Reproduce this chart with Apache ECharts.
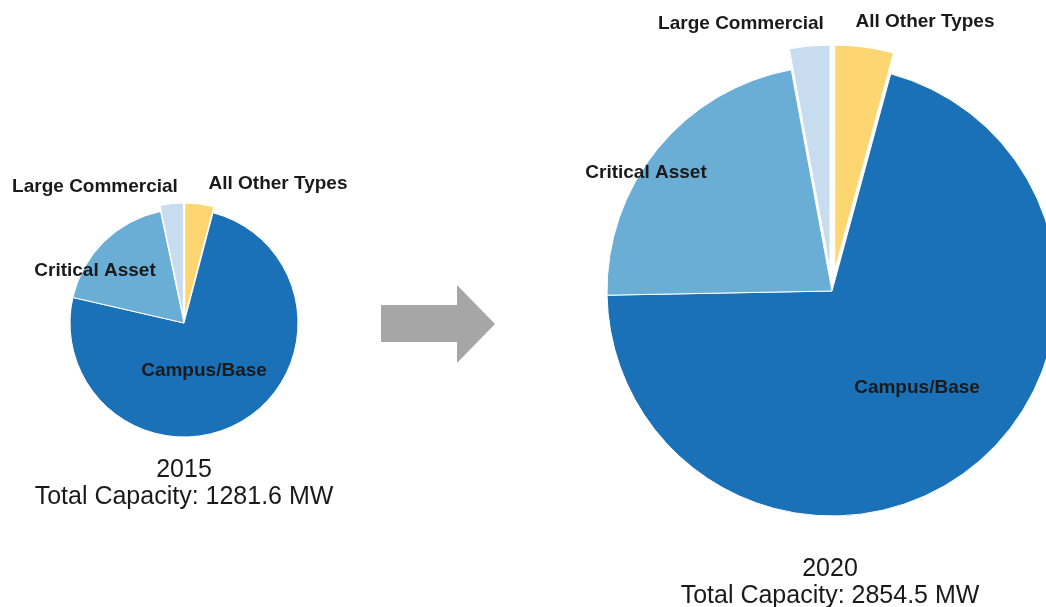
<!DOCTYPE html>
<html>
<head>
<meta charset="utf-8">
<script src="https://cdn.jsdelivr.net/npm/echarts@6/dist/echarts.min.js"></script>
<style>
  html, body { margin: 0; padding: 0; background: #ffffff; }
  #chart { width: 1046px; height: 607px; }
</style>
</head>
<body>
<div id="chart"></div>
<script>
// Installed microgrid capacity by segment (MW), listed clockwise from 12 o'clock
const categories = ['All Other Types', 'Campus/Base', 'Critical Asset', 'Large Commercial'];
const capacity2015 = [52.5, 954.8, 232, 42.3];
const capacity2020 = [120, 2012.4, 639.3, 82.8];
const years = ['2015', '2020'];
// Smaller segments are pulled out of the pie
const pulledOut = [true, false, false, true];

const colors = ['#fdd672', '#1b71b8', '#6aaed6', '#c8dcef'];

// Pie geometry: centre, radius, explode offset, label anchors relative to the centre
const pies = [
  { cx: 184, cy: 323, r: 114, offset: 6,
    labels: [[94, -139], [20, 48], [-89, -52], [-89, -136]],
    caption: [184, 484] },
  { cx: 832, cy: 291, r: 225, offset: 21,
    labels: [[93, -269], [85, 97], [-186, -118], [-91, -267]],
    caption: [830, 583] }
];

const font = 'Arial, "Liberation Sans", Helvetica, sans-serif';
const chart = echarts.init(document.getElementById('chart'), null, { renderer: 'canvas' });

function total(arr) {
  return arr.reduce((a, b) => a + b, 0);
}

const datasets = [capacity2015, capacity2020];
const series = [];

datasets.forEach((values, s) => {
  const p = pies[s];
  const base = {
    type: 'pie',
    center: [p.cx, p.cy],
    radius: [0, p.r],
    startAngle: 90,
    clockwise: true,
    avoidLabelOverlap: false,
    silent: true,
    emphasis: { disabled: true },
    labelLine: { show: false }
  };

  // Slices, with the small segments exploded
  series.push(Object.assign({}, base, {
    selectedMode: 'multiple',
    selectedOffset: p.offset,
    itemStyle: { borderColor: '#ffffff', borderWidth: 1 },
    label: { show: false },
    data: categories.map((name, i) => ({
      name: name,
      value: values[i],
      selected: pulledOut[i],
      itemStyle: { color: colors[i] }
    }))
  }));

  // Same segments again, transparent, carrying the category labels
  series.push(Object.assign({}, base, {
    z: 3,
    itemStyle: { color: 'rgba(0,0,0,0)', borderWidth: 0 },
    label: {
      show: true,
      position: 'outside',
      formatter: '{b}',
      color: '#1a1a1a',
      fontFamily: font,
      fontWeight: 'bold',
      fontSize: 19
    },
    labelLayout: function (params) {
      const o = p.labels[params.dataIndex];
      return {
        x: p.cx + o[0],
        y: p.cy + o[1],
        align: 'center',
        verticalAlign: 'middle',
        hideOverlap: false,
        moveOverlap: false
      };
    },
    data: categories.map((name, i) => ({ name: name, value: values[i] }))
  }));
});

// Year and total captions under each pie
const captions = datasets.map((values, s) => {
  const p = pies[s];
  return {
    type: 'text',
    x: p.caption[0],
    y: p.caption[1],
    style: {
      text: years[s] + '\nTotal Capacity: ' + total(values).toFixed(1) + ' MW',
      fill: '#1a1a1a',
      font: '25px ' + font,
      lineHeight: 27,
      textAlign: 'center',
      textVerticalAlign: 'middle'
    }
  };
});

// Grey arrow pointing from 2015 to 2020
const arrow = {
  type: 'polygon',
  shape: {
    points: [[381, 305], [457, 305], [457, 285], [495, 324], [457, 363], [457, 342], [381, 342]]
  },
  style: { fill: '#a6a6a6' }
};

chart.setOption({
  animation: false,
  backgroundColor: '#ffffff',
  series: series,
  graphic: { elements: captions.concat([arrow]) }
});
</script>
</body>
</html>
